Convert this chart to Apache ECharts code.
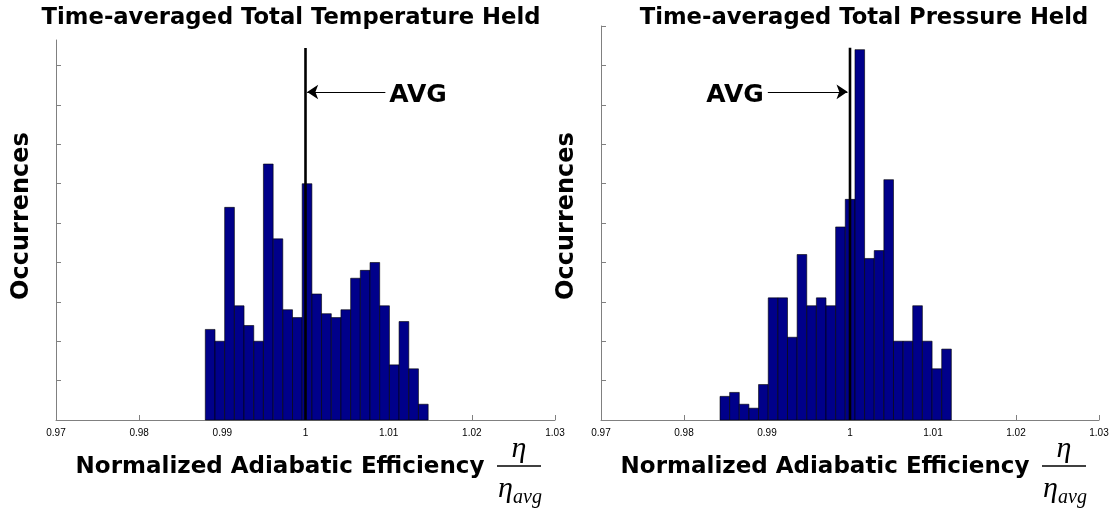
<!DOCTYPE html>
<html>
<head>
<meta charset="utf-8">
<script src="https://cdn.jsdelivr.net/npm/echarts@6/dist/echarts.min.js"></script>
<style>
  html, body { margin: 0; padding: 0; background: #fff; }
  #chart { width: 1112px; height: 508px; }
</style>
</head>
<body>
<div id="chart"></div>
<script>
// Histogram bin edges (normalized efficiency) and counts per bin
const tempBinEdges = [0.98795, 0.98912, 0.99028, 0.99145, 0.99261, 0.99378, 0.99494, 0.99611,
  0.99727, 0.99844, 0.99960, 1.00077, 1.00193, 1.00310, 1.00426, 1.00543, 1.00659, 1.00776,
  1.00892, 1.01009, 1.01125, 1.01242, 1.01358, 1.01475];
const tempCounts = [23, 20, 54, 29, 24, 20, 65, 46, 28, 26, 60, 32, 27, 26, 28, 36, 38, 40, 29, 14, 25, 13, 4];

const presBinEdges = [0.98434, 0.98550, 0.98666, 0.98782, 0.98898, 0.99015, 0.99131, 0.99247,
  0.99363, 0.99479, 0.99595, 0.99711, 0.99827, 0.99943, 1.00060, 1.00176, 1.00292, 1.00408,
  1.00524, 1.00640, 1.00756, 1.00872, 1.00989, 1.01105, 1.01221];
const presCounts = [6, 7, 4, 3, 9, 31, 31, 21, 42, 29, 31, 29, 49, 56, 94, 41, 43, 61, 20, 20, 29, 20, 13, 18];

const xTickValues = [0.97, 0.98, 0.99, 1.00, 1.01, 1.02, 1.03];
const tempYTicks = [10, 20, 30, 40, 50, 60, 70, 80, 90];
const presYTicks = [10, 20, 30, 40, 50, 60, 70, 80, 90, 100];

const titles = ['Time-averaged Total Temperature Held', 'Time-averaged Total Pressure Held'];
const xName = 'Normalized Adiabatic Efficiency';
const yName = 'Occurrences';

// average marker: vertical line height and arrow (from, to, level)
const avgValue = 1.0;
const avgLineTop = 94.5;
const tempArrow = [1.0096, 1.0002, 83.3];
const presArrow = [0.9901, 0.9997, 83.3];

function binData(edges, counts) {
  return counts.map((c, i) => [edges[i], edges[i + 1], c]);
}

const AXIS_GRAY = '#808080';
const BAR_FILL = '#00008a';

function xAxisCfg(gi) {
  return {
    gridIndex: gi, type: 'value', min: 0.97, max: 1.03, interval: 0.01,
    axisLine: { show: true, lineStyle: { color: AXIS_GRAY, width: 1 } },
    axisTick: { show: true, inside: true, length: 5, lineStyle: { color: AXIS_GRAY } },
    axisLabel: {
      color: '#000', fontSize: 10, fontFamily: 'Liberation Sans', margin: 8,
      customValues: xTickValues,
      formatter: v => String(+v.toFixed(2))
    },
    splitLine: { show: false }
  };
}
function yAxisCfg(gi, max, ticks) {
  return {
    gridIndex: gi, type: 'value', min: 0, max: max,
    axisLine: { show: true, lineStyle: { color: AXIS_GRAY, width: 1 } },
    axisTick: { show: true, inside: true, length: 5, lineStyle: { color: AXIS_GRAY }, customValues: ticks },
    axisLabel: { show: false },
    splitLine: { show: false }
  };
}

function histSeries(gi, edges, counts) {
  return {
    type: 'custom', xAxisIndex: gi, yAxisIndex: gi,
    data: binData(edges, counts),
    renderItem: (params, api) => {
      const p0 = api.coord([api.value(0), api.value(2)]);
      const p1 = api.coord([api.value(1), 0]);
      return {
        type: 'rect',
        shape: { x: p0[0], y: p0[1], width: p1[0] - p0[0], height: p1[1] - p0[1] },
        style: { fill: BAR_FILL, stroke: '#000', lineWidth: 0.6 }
      };
    },
    silent: true
  };
}

function avgSeries(gi, arrow) {
  return {
    type: 'line', xAxisIndex: gi, yAxisIndex: gi,
    data: [[avgValue, 0], [avgValue, avgLineTop]],
    symbol: 'none', z: 5,
    lineStyle: { color: '#000', width: 2.6 },
    markLine: {
      silent: true, symbol: ['none', 'arrow'], symbolSize: 11, precision: 5,
      lineStyle: { color: '#000', width: 1.2, type: 'solid' },
      label: {
        show: true, position: 'start', distance: 4, offset: [0, 4], formatter: 'AVG',
        color: '#000', fontSize: 25, fontWeight: 'bold', fontFamily: 'DejaVu Sans'
      },
      data: [[{ coord: [arrow[0], arrow[2]] }, { coord: [arrow[1], arrow[2]] }]]
    }
  };
}

const textFont = { fontFamily: 'DejaVu Sans', fontWeight: 'bold', fill: '#000' };

function panelGraphics(dx, title, titleX) {
  return [
    { type: 'text', x: titleX, y: 18, style: Object.assign({ text: title, fontSize: 22.7, align: 'center', verticalAlign: 'middle' }, textFont) },
    { type: 'text', x: 22 + dx, y: 216, rotation: Math.PI / 2,
      style: Object.assign({ text: yName, fontSize: 24, align: 'center', verticalAlign: 'middle' }, textFont) },
    { type: 'text', x: 280 + dx, y: 467, style: Object.assign({ text: xName, fontSize: 23, align: 'center', verticalAlign: 'middle' }, textFont) },
    { type: 'text', x: 519 + dx, y: 449,
      style: { text: 'η', font: 'italic 30px "Liberation Serif"', fill: '#000', align: 'center', verticalAlign: 'middle' } },
    { type: 'line', shape: { x1: 497 + dx, y1: 466, x2: 541 + dx, y2: 466 }, style: { stroke: '#000', lineWidth: 1.3 } },
    { type: 'text', x: 520 + dx, y: 489,
      style: {
        text: '{a|η}{b|avg}', align: 'center', verticalAlign: 'middle',
        rich: {
          a: { fontFamily: 'Liberation Serif', fontStyle: 'italic', fontSize: 30, fill: '#000', verticalAlign: 'bottom' },
          b: { fontFamily: 'Liberation Serif', fontStyle: 'italic', fontSize: 20, fill: '#000', verticalAlign: 'bottom', padding: [0, 0, -4, 0] }
        }
      } }
  ];
}

const chart = echarts.init(document.getElementById('chart'), null, { renderer: 'canvas' });
chart.setOption({
  animation: false,
  backgroundColor: '#fff',
  grid: [
    { left: 56, top: 40, width: 499, height: 380 },
    { left: 601, top: 26, width: 498, height: 394 }
  ],
  xAxis: [xAxisCfg(0), xAxisCfg(1)],
  yAxis: [yAxisCfg(0, 96.5, tempYTicks), yAxisCfg(1, 100, presYTicks)],
  series: [
    histSeries(0, tempBinEdges, tempCounts),
    histSeries(1, presBinEdges, presCounts),
    avgSeries(0, tempArrow),
    avgSeries(1, presArrow)
  ],
  graphic: [].concat(panelGraphics(0, titles[0], 291), panelGraphics(545, titles[1], 864))
});
</script>
</body>
</html>
